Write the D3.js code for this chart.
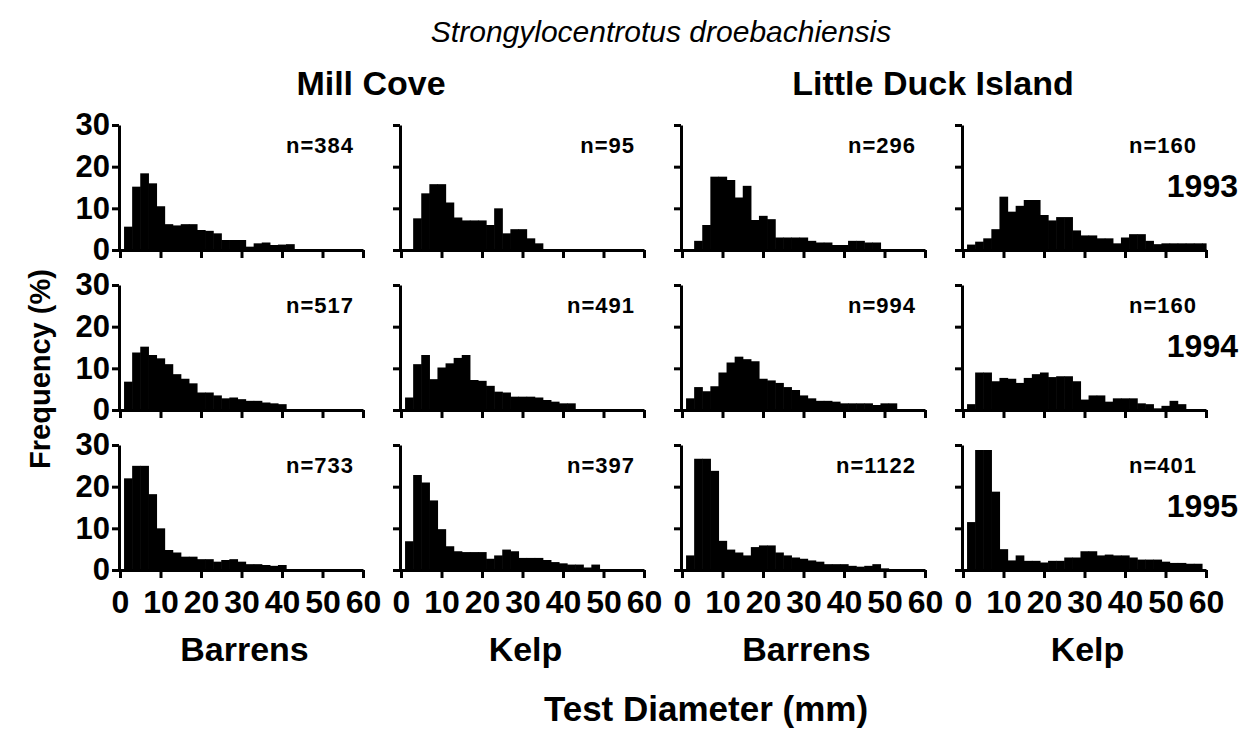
<!doctype html>
<html>
<head>
<meta charset="utf-8">
<title>Strongylocentrotus droebachiensis</title>
<script src="https://cdn.jsdelivr.net/npm/d3@7/dist/d3.min.js"></script>
<style>
  body { margin: 0; background: #fff; }
  text { font-family: "Liberation Sans", Arial, Helvetica, sans-serif; fill: #000; }
</style>
</head>
<body>
<script>

// DATA: size-frequency (%) in 2 mm test-diameter classes
var binStart = [1, 3, 5, 7, 9, 11, 13, 15, 17, 19, 21, 23, 25, 27, 29,
                31, 33, 35, 37, 39, 41, 43, 45, 47, 49, 51, 53, 55, 57, 59];
var binWidth = 2;

var mcBarrens93 = [5.6, 15.2, 18.4, 16, 10.5, 6.2, 5.9, 6.2, 6.2, 4.8, 4.6, 4, 2.4, 2.4, 2.4, 0.8, 1.6, 1.8, 1.2, 1.3, 1.4];
var mcKelp93    = [0, 7.6, 13.6, 15.8, 15.8, 11.4, 7.8, 7.1, 7.1, 7.1, 6, 10, 4, 5, 5, 2.8, 1.6];
var ldBarrens93 = [0, 2.2, 6, 17.6, 17.6, 16.8, 12.6, 15.4, 7.2, 8.2, 7.4, 3, 3, 3, 3, 2.2, 1.8, 1.8, 1.2, 1.2, 2.2, 2.2, 1.8, 1.8];
var ldKelp93    = [1.3, 2, 2.8, 5, 12.8, 9.2, 10.6, 12, 12, 8.4, 7.1, 7.9, 7.9, 4.7, 3.5, 3.5, 2.8, 2.8, 1.6, 3, 3.8, 3.8, 2.2, 1.4, 1.6, 1.6, 1.6, 1.6, 1.6, 1.6];

var mcBarrens94 = [6.8, 13.8, 15.2, 13.2, 12.4, 11, 8.6, 7.5, 6.4, 4.2, 4.2, 3.5, 2.8, 3, 2.6, 2.2, 2.2, 1.8, 1.6, 1.4];
var mcKelp94    = [3, 11, 13.2, 7.4, 10.2, 11.2, 12.5, 13.2, 7.2, 7, 5.8, 4.4, 4.2, 3.2, 3.2, 3.2, 3, 2.4, 2, 1.6, 1.6];
var ldBarrens94 = [2.8, 5.5, 4.5, 5.7, 9, 11.4, 12.8, 12.2, 11.7, 7.5, 7.1, 6.5, 5.5, 4.8, 3.5, 2.8, 2.2, 2.2, 2, 1.6, 1.6, 1.6, 1.6, 1.2, 1.6, 1.6];
var ldKelp94    = [1.4, 9, 9, 6.9, 7.7, 7.5, 6.5, 7.7, 8.6, 9, 7.9, 8.1, 8.1, 6.9, 2.5, 3.5, 3.5, 2, 2.8, 2.8, 2.8, 1.6, 1.4, 0.4, 1, 2.2, 1.4];

var mcBarrens95 = [22, 25, 25, 18.2, 10, 4.8, 4.2, 3.2, 3.2, 2.6, 2.6, 2, 2.4, 2.6, 2, 1.4, 1.4, 1.2, 1, 1.2];
var mcKelp95    = [6.9, 22.8, 21, 16.7, 9.8, 5.7, 4.5, 4.3, 4.3, 4.3, 2.7, 3.5, 4.9, 4.5, 2.9, 2.9, 2.9, 2.4, 1.9, 1.6, 1.3, 1.3, 0.6, 1.3];
var ldBarrens95 = [3.5, 26.7, 26.7, 23.8, 7, 4.9, 4.2, 3.5, 5.5, 5.9, 5.9, 4.2, 3.5, 3, 2.7, 2.3, 2, 1.4, 1.4, 1.4, 1, 0.8, 1, 1.4, 0.4];
var ldKelp95    = [11.5, 28.8, 28.8, 18.8, 5, 2.3, 3.5, 2.2, 2.2, 1.8, 2.2, 2.2, 3, 3, 4.5, 4.5, 3.5, 3.7, 3.5, 3.5, 3, 2.5, 2.5, 2.5, 2, 1.7, 1.7, 1.5, 1.5];

var sampleN  = [[384, 95, 296, 160], [517, 491, 994, 160], [733, 397, 1122, 401]];
var years    = ["1993", "1994", "1995"];
var sites    = ["Mill Cove", "Little Duck Island"];
var habitats = ["Barrens", "Kelp", "Barrens", "Kelp"];
var freqTicks = [0, 10, 20, 30];
var sizeTicks = [0, 10, 20, 30, 40, 50, 60];

var panels = [
  [mcBarrens93, mcKelp93, ldBarrens93, ldKelp93],
  [mcBarrens94, mcKelp94, ldBarrens94, ldKelp94],
  [mcBarrens95, mcKelp95, ldBarrens95, ldKelp95]
];

// LAYOUT
var w = 1247, h = 729;
var left = 120, colStep = 281, panelW = 243;
var top0 = 125, rowStep = 160, panelH = 125;

var svg = d3.select("body").append("svg").attr("width", w).attr("height", h);

panels.forEach(function(row, r){
  row.forEach(function(vals, c){
    var x0 = left + c * colStep, top = top0 + r * rowStep;
    var x = d3.scaleLinear().domain([0, 60]).range([x0, x0 + panelW]);
    var y = d3.scaleLinear().domain([0, 30]).range([top + panelH, top]);
    var g = svg.append("g");

    // bars
    g.selectAll("rect")
      .data(vals)
      .enter()
      .append("rect")
      .attr("x", function(d, i){ return x(binStart[i]); })
      .attr("width", function(d, i){ return x(Math.min(binStart[i] + binWidth, 60)) - x(binStart[i]) + 0.6; })
      .attr("y", function(d){ return y(d); })
      .attr("height", function(d){ return y(0) - y(d); })
      .attr("fill", "#000");

    // y axis
    var ya = g.append("g")
      .attr("transform", "translate(" + (x0 - 1) + ",0)")
      .call(d3.axisLeft(y).tickValues(freqTicks).tickSize(7).tickSizeOuter(0)
        .tickFormat(c === 0 ? d3.format("d") : function(){ return ""; }));

    // x axis
    var xa = g.append("g")
      .attr("transform", "translate(0," + y(0) + ")")
      .call(d3.axisBottom(x).tickValues(sizeTicks).tickSize(8).tickSizeOuter(0)
        .tickFormat(r === 2 ? d3.format("d") : function(){ return ""; }));

    [ya, xa].forEach(function(a){
      a.selectAll("path, line").attr("stroke", "#000").attr("stroke-width", 3);
      a.selectAll("text").attr("font-size", "31px").attr("font-weight", "bold").attr("fill", "#000");
    });
    ya.selectAll("text").attr("x", -9);
    xa.selectAll("text").attr("y", 20).attr("font-size", "32px");

    // sample size
    g.append("text")
      .attr("x", x(60) - 9)
      .attr("y", top + 28)
      .attr("text-anchor", "end")
      .attr("font-size", "22px")
      .attr("font-weight", "bold")
      .attr("letter-spacing", "1px")
      .text("n=" + sampleN[r][c]);

    if (c === 3) {
      g.append("text")
        .attr("x", x(60) + 32)
        .attr("y", top + 72)
        .attr("text-anchor", "end")
        .attr("font-size", "32px")
        .attr("font-weight", "bold")
        .text(years[r]);
    }
  });
});

// TITLES AND LABELS
svg.append("text")
  .attr("x", 661).attr("y", 42)
  .attr("text-anchor", "middle")
  .attr("font-size", "30px")
  .attr("font-style", "italic")
  .text("Strongylocentrotus droebachiensis");

sites.forEach(function(s, i){
  svg.append("text")
    .attr("x", left + i * 2 * colStep + colStep - 30)
    .attr("y", 95)
    .attr("text-anchor", "middle")
    .attr("font-size", "34px")
    .attr("font-weight", "bold")
    .text(s);
});

habitats.forEach(function(s, i){
  svg.append("text")
    .attr("x", left + i * colStep + panelW / 2 + 3)
    .attr("y", 661)
    .attr("text-anchor", "middle")
    .attr("font-size", "34px")
    .attr("font-weight", "bold")
    .text(s);
});

svg.append("text")
  .attr("x", 706).attr("y", 721)
  .attr("text-anchor", "middle")
  .attr("font-size", "35px")
  .attr("font-weight", "bold")
  .text("Test Diameter (mm)");

svg.append("text")
  .attr("transform", "translate(50,369) rotate(-90)")
  .attr("text-anchor", "middle")
  .attr("font-size", "29px")
  .attr("font-weight", "bold")
  .text("Frequency (%)");

</script>
</body>
</html>
